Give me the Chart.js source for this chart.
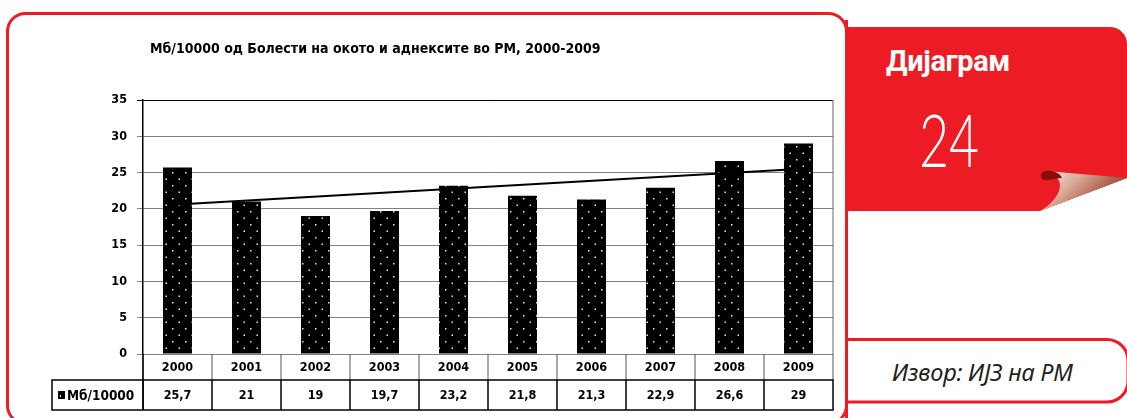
<!DOCTYPE html>
<html>
<head>
<meta charset="utf-8">
<script src="https://cdn.jsdelivr.net/npm/chart.js@4.4.1/dist/chart.umd.min.js"></script>
<style>
  html, body { margin: 0; padding: 0; background: #fff; }
  body { width: 1127px; height: 418px; position: relative; overflow: hidden; }
  #frame { position: absolute; left: 0; top: 0; }
  #chart { position: absolute; left: 0; top: 0; }
  .txt { position: absolute; white-space: nowrap; line-height: 1; }
  #title { left: 150px; top: 40px; font: bold 14px "DejaVu Sans Condensed", sans-serif; color: #000; }
  #dia { left: 886px; top: 44px; font: bold 29px Roboto, sans-serif; letter-spacing: -0.4px; color: #fff; }
  #num { left: 919px; top: 96px; font: 300 72px Lato, sans-serif; color: #fff; transform: scaleX(0.72); transform-origin: 0 0; }
  #src { left: 892px; top: 356px; font: italic 23.5px "Noto Sans", sans-serif; color: #231f20; letter-spacing: -0.2px; }
</style>
</head>
<body>
<svg id="frame" width="1127" height="418">
  <defs>
    <linearGradient id="curl" x1="0" y1="0" x2="1" y2="0.5">
      <stop offset="0" stop-color="#fcebe3"/>
      <stop offset="0.4" stop-color="#dcae9c"/>
      <stop offset="1" stop-color="#8a2e1c"/>
    </linearGradient>
  </defs>
  <rect x="7.5" y="13.5" width="839" height="410" rx="18" fill="#fff" stroke="#ed1c24" stroke-width="3"/>
  <path d="M845,27 H1110 A17,17 0 0 1 1127,44 V178 L1040,211 H845 Z" fill="#ed1c24"/>
  <path d="M1046,171 L1127,178 L1040,211 C1060,200 1070,178 1046,171 Z" fill="url(#curl)"/>
  <path d="M1046,171 C1040,172 1039,178 1044,180 C1050,181 1056,178 1062,178 C1060,173 1053,170 1046,171 Z" fill="#8a0b0b"/>
  <path d="M846.5,339.5 H1107 A21,21 0 0 1 1128,360.5 V381 A21,21 0 0 1 1107,402 H846.5" fill="#fff" stroke="#ed1c24" stroke-width="3"/>
  <line x1="846.5" y1="20" x2="846.5" y2="418" stroke="#ed1c24" stroke-width="3"/>
</svg>
<canvas id="chart" width="848" height="418"></canvas>
<div class="txt" id="title">Мб/10000 од Болести на окото и аднексите во РМ, 2000-2009</div>
<div class="txt" id="dia">Дијаграм</div>
<div class="txt" id="num">24</div>
<div class="txt" id="src">Извор: ИЈЗ на РМ</div>
<script>
const years = ["2000", "2001", "2002", "2003", "2004", "2005", "2006", "2007", "2008", "2009"]
const rates = [25.7, 21, 19, 19.7, 23.2, 21.8, 21.3, 22.9, 26.6, 29]
// linear trend as drawn in the picture: only its two ends are visible
const trend = [20.6, null, null, null, null, null, null, null, null, 25.5]
const seriesName = "Мб/10000"
const yMin = 0
const yMax = 35
const yStep = 5

const FONT = "bold 12.5px 'DejaVu Sans Condensed', sans-serif"

function dotPattern() {
  const tile = document.createElement("canvas")
  tile.width = 13
  tile.height = 13
  const g = tile.getContext("2d")
  g.fillStyle = "#000"
  g.fillRect(0, 0, 13, 13)
  g.fillStyle = "#e8e8e8"
  g.fillRect(3, 3, 1.5, 1.5)
  g.fillRect(9.5, 9.5, 1.5, 1.5)
  return g.createPattern(tile, "repeat")
}

const fmt = (v) => String(v).replace(".", ",")

const tablePlugin = {
  id: "dataTable",
  afterDraw(chart) {
    const { ctx, chartArea, scales: { x } } = chart
    const half = (x.getPixelForValue(1) - x.getPixelForValue(0)) / 2
    const top = chartArea.bottom
    const mid = top + 26
    const bot = top + 56
    const left = chartArea.left
    const right = chartArea.right
    const keyLeft = 52

    const line = (x1, y1, x2, y2) => {
      ctx.beginPath()
      ctx.moveTo(x1, y1)
      ctx.lineTo(x2, y2)
      ctx.stroke()
    }

    ctx.save()
    // right edge of the plot area
    ctx.strokeStyle = "#666"
    ctx.lineWidth = 1
    line(right, chartArea.top, right, top)

    // category row
    ctx.strokeStyle = "#555"
    years.forEach((_, i) => {
      const xl = x.getPixelForValue(i) - half
      line(xl, top, xl, mid)
    })
    line(right, top, right, mid)

    // value row
    ctx.strokeStyle = "#000"
    ctx.lineWidth = 1.5
    ctx.strokeRect(keyLeft, mid, right - keyLeft, bot - mid)
    years.forEach((_, i) => {
      const xl = x.getPixelForValue(i) - half
      line(xl, mid, xl, bot)
    })
    line(left, top, left, bot)

    ctx.font = FONT
    ctx.fillStyle = "#000"
    ctx.textAlign = "center"
    ctx.textBaseline = "middle"
    years.forEach((yr, i) => {
      const cx = x.getPixelForValue(i)
      ctx.fillText(yr, cx, (top + mid) / 2 + 1)
      ctx.fillText(fmt(rates[i]), cx, (mid + bot) / 2 + 1)
    })

    // legend key and series name
    ctx.fillStyle = "#000"
    ctx.fillRect(keyLeft + 6, mid + 11, 7, 8)
    ctx.fillStyle = "#fff"
    ctx.fillRect(keyLeft + 8, mid + 15, 1, 2)
    ctx.fillStyle = "#000"
    ctx.textAlign = "left"
    ctx.font = "bold 13.5px 'DejaVu Sans Condensed', sans-serif"
    ctx.fillText(seriesName, keyLeft + 15, (mid + bot) / 2 + 1)
    ctx.restore()
  }
}

new Chart(document.getElementById("chart"), {
  type: "bar",
  data: {
    labels: years,
    datasets: [
      {
        type: "line",
        data: trend,
        borderColor: "#000",
        borderWidth: 2,
        pointRadius: 0,
        spanGaps: true,
        order: 0
      },
      {
        type: "bar",
        data: rates,
        backgroundColor: dotPattern(),
        barPercentage: 0.42,
        categoryPercentage: 1,
        order: 1
      }
    ]
  },
  options: {
    responsive: false,
    animation: false,
    layout: {
      padding: { top: 100, right: 15, bottom: 64, left: 0 }
    },
    plugins: {
      legend: { display: false },
      tooltip: { enabled: false }
    },
    scales: {
      x: {
        display: false,
        offset: true
      },
      y: {
        min: yMin,
        max: yMax,
        ticks: {
          stepSize: yStep,
          color: "#000",
          padding: 10,
          font: { family: "'DejaVu Sans Condensed', sans-serif", size: 12.5, weight: "bold" }
        },
        grid: {
          color: (c) => (c.tick && c.tick.value === yMax ? "#000" : "#808080"),
          tickLength: 6
        },
        border: { color: "#000", width: 1.5 },
        afterFit(scale) {
          scale.width = 143
        }
      }
    }
  },
  plugins: [tablePlugin]
})
</script>
</body>
</html>
